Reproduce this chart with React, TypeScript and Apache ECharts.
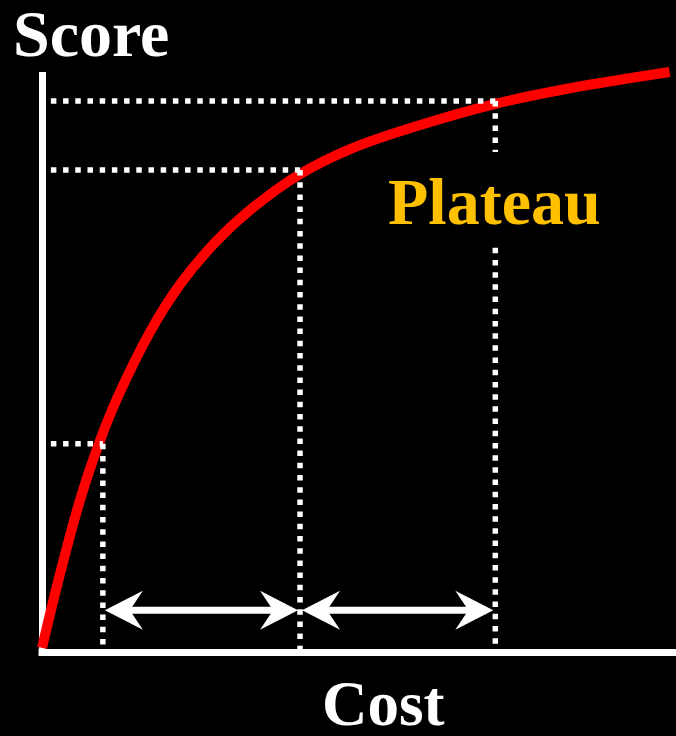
import React, { useEffect, useRef } from "react";
import * as echarts from "echarts";

// Curve (Cost vs Score, both on 0–100 scale)
const curveCost = [0, 2.8, 6.0, 9.0, 12.0, 17.0, 21.8, 27.3, 32.8, 40.4, 48.6, 58.0, 71.5, 83.3, 99.0];
const curveScore = [0.7, 13.3, 26.2, 36.0, 44.1, 55.1, 63.4, 70.6, 76.2, 82.2, 86.7, 90.3, 94.5, 97.2, 100.0];

// Reference (dotted) guides
const guideCost = [9.6, 40.7, 71.5];
const guideScore = [35.9, 83.1, 95.0];
const guideStart = 1.4;
const plateauGap = [69.7, 86.2]; // score range left open for the "Plateau" label

// Double-headed arrows between guides
const arrowFrom = [9.6, 40.7];
const arrowTo = [40.7, 71.5];
const arrowScore = 7.2;

const labels = { y: "Score", x: "Cost", plateau: "Plateau" };

const FONT = "'Liberation Serif', 'DejaVu Serif', serif";

export default function App() {
  const ref = useRef<HTMLDivElement>(null);
  useEffect(() => {
    if (!ref.current) return;
    const chart = echarts.init(ref.current, null, { renderer: "svg" });
    const dotted = { color: "#ffffff", width: 5.5, type: [5.5, 6.7] as any, cap: "butt" as const };
    const guideSeries: any[] = [];
    guideCost.forEach((c, i) => {
      const s = guideScore[i];
      guideSeries.push({
        type: "line",
        data: [[guideStart, s], [c, s]],
        symbol: "none",
        lineStyle: dotted,
        z: 3,
        silent: true,
      });
      if (i === guideCost.length - 1) {
        guideSeries.push({
          type: "line",
          data: [[c, s], [c, plateauGap[1]]],
          symbol: "none",
          lineStyle: dotted,
          z: 3,
          silent: true,
        });
        guideSeries.push({
          type: "line",
          data: [[c, plateauGap[0]], [c, 0]],
          symbol: "none",
          lineStyle: dotted,
          z: 3,
          silent: true,
        });
      } else {
        guideSeries.push({
          type: "line",
          data: [[c, s], [c, 0]],
          symbol: "none",
          lineStyle: dotted,
          z: 3,
          silent: true,
        });
      }
    });

    const option: any = {
      animation: false,
      backgroundColor: "#000000",
      grid: { left: 42, right: 0, top: 72, bottom: 84, containLabel: false },
      xAxis: {
        type: "value",
        min: 0,
        max: 100,
        axisLine: { show: true, onZero: false, lineStyle: { color: "#ffffff", width: 7, cap: "square" } },
        axisTick: { show: false },
        axisLabel: { show: false },
        splitLine: { show: false },
      },
      yAxis: {
        type: "value",
        min: 0,
        max: 100,
        axisLine: { show: true, onZero: false, lineStyle: { color: "#ffffff", width: 7, cap: "butt" } },
        axisTick: { show: false },
        axisLabel: { show: false },
        splitLine: { show: false },
      },
      series: [
        {
          type: "line",
          data: curveCost.map((c, i) => [c, curveScore[i]]),
          symbol: "none",
          smooth: 0.35,
          clip: false,
          lineStyle: { color: "#ff0000", width: 10, cap: "butt" },
          z: 2,
          silent: true,
        },
        ...guideSeries,
        {
          type: "custom",
          data: arrowFrom.map((f, i) => [f, arrowTo[i], arrowScore]),
          z: 4,
          silent: true,
          clip: false,
          renderItem: (params: any, api: any) => {
            const a = api.coord([api.value(0), api.value(2)]);
            const b = api.coord([api.value(1), api.value(2)]);
            const y = a[1];
            const x1 = a[0] + 2;
            const x2 = b[0] - 2;
            const L = 38;
            const H = 19.5;
            const N = 25;
            return {
              type: "group",
              children: [
                { type: "line", shape: { x1: x1 + N - 2, y1: y, x2: x2 - N + 2, y2: y }, style: { stroke: "#ffffff", lineWidth: 7 } },
                { type: "polygon", shape: { points: [[x1, y], [x1 + L, y - H], [x1 + N, y], [x1 + L, y + H]] }, style: { fill: "#ffffff" } },
                { type: "polygon", shape: { points: [[x2, y], [x2 - L, y - H], [x2 - N, y], [x2 - L, y + H]] }, style: { fill: "#ffffff" } },
              ],
            };
          },
        },
      ],
      graphic: [
        { type: "text", left: 13, top: 0, style: { text: labels.y, font: `bold 66px ${FONT}`, fill: "#ffffff" }, z: 10 },
        { type: "text", left: 322, top: 672, style: { text: labels.x, font: `bold 63px ${FONT}`, fill: "#ffffff" }, z: 10 },
        { type: "text", left: 388, top: 168, style: { text: labels.plateau, font: `bold 66px ${FONT}`, fill: "#FFC000" }, z: 10 },
      ],
    };
    chart.setOption(option);
    return () => chart.dispose();
  }, []);
  return (
    <div
      ref={ref}
      style={{ position: "fixed", left: 0, top: 0, width: 676, height: 736, background: "#000" }}
    />
  );
}
